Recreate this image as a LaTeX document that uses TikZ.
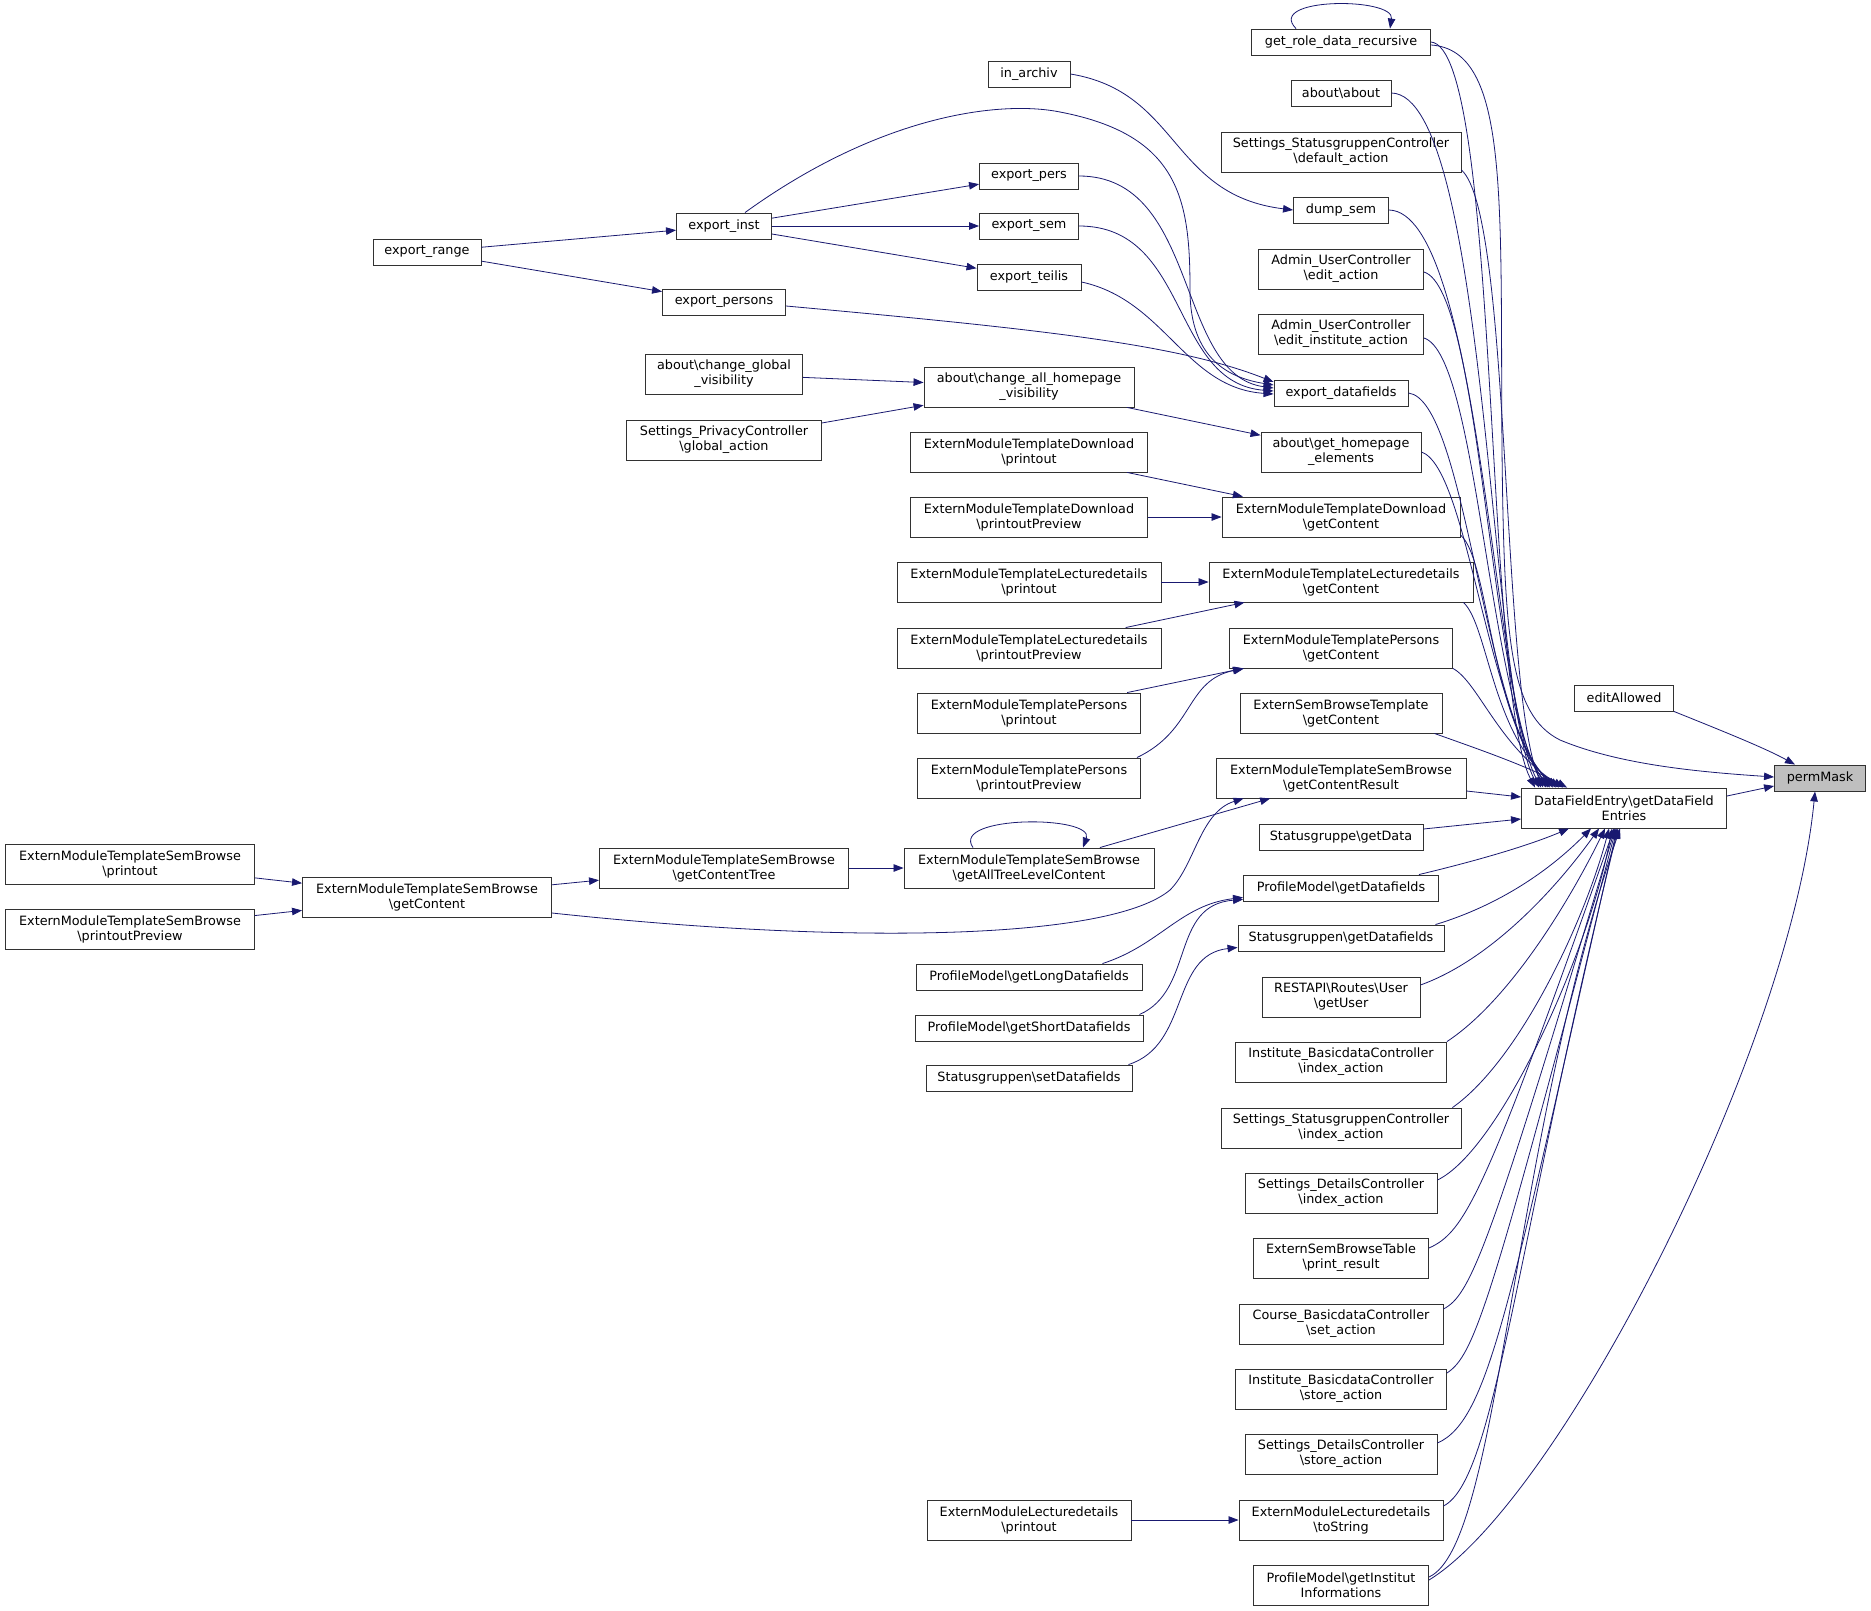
\documentclass[tikz,border=0pt]{standalone}
\usepackage{fontspec}
\setmainfont{DejaVu Sans}
\usetikzlibrary{arrows.meta,calc}
\definecolor{mblue}{RGB}{25,25,112}
\definecolor{boxline}{RGB}{50,50,50}
\definecolor{hl}{RGB}{191,191,191}
\newcommand{\bsl}{\textbackslash}
\begin{document}
\begin{tikzpicture}[x=1pt,y=-1pt,
  fn/.style={draw=boxline, line width=0.9pt, fill=white, inner sep=0pt, align=center, font=\fontsize{12.8}{15}\selectfont, text=black},
  n1/.style={fn, minimum height=26pt},
  n2/.style={fn, minimum height=40pt},
  ed/.style={draw=mblue, line width=0.8pt, -{Triangle[length=10pt,width=7.5pt]}}]
\useasboundingbox[fill=white] (0,0) rectangle (1871,1611);

% column A
\node[n2, minimum width=249pt] (smbp) at (130,864) {ExternModuleTemplateSemBrowse\\\bsl printout};
\node[n2, minimum width=249pt] (smbpp) at (130,929) {ExternModuleTemplateSemBrowse\\\bsl printoutPreview};
% column B
\node[n1, minimum width=108pt] (er) at (427,252) {export\_range};
\node[n2, minimum width=249pt] (smbgc) at (427,897) {ExternModuleTemplateSemBrowse\\\bsl getContent};
% column C
\node[n1, minimum width=95pt] (ei) at (724,226) {export\_inst};
\node[n1, minimum width=123pt] (eps) at (724,302) {export\_persons};
\node[n2, minimum width=157pt] (cgv) at (724,374) {about\bsl change\_global\\\_visibility};
\node[n2, minimum width=195pt] (pga) at (724,440) {Settings\_PrivacyController\\\bsl global\_action};
\node[n2, minimum width=249pt] (smbgct) at (724,868) {ExternModuleTemplateSemBrowse\\\bsl getContentTree};
% column D
\node[n1, minimum width=82pt] (ia) at (1029,74) {in\_archiv};
\node[n1, minimum width=99pt] (ep) at (1029,176) {export\_pers};
\node[n1, minimum width=99pt] (es) at (1029,226) {export\_sem};
\node[n1, minimum width=104pt] (et) at (1029,277) {export\_teilis};
\node[n2, minimum width=210pt] (cahv) at (1029,387) {about\bsl change\_all\_homepage\\\_visibility};
\node[n2, minimum width=237pt] (dlp) at (1029,452) {ExternModuleTemplateDownload\\\bsl printout};
\node[n2, minimum width=237pt] (dlpp) at (1029,517) {ExternModuleTemplateDownload\\\bsl printoutPreview};
\node[n2, minimum width=264pt] (ldp) at (1029,582) {ExternModuleTemplateLecturedetails\\\bsl printout};
\node[n2, minimum width=264pt] (ldpp) at (1029,648) {ExternModuleTemplateLecturedetails\\\bsl printoutPreview};
\node[n2, minimum width=223pt] (psp) at (1029,713) {ExternModuleTemplatePersons\\\bsl printout};
\node[n2, minimum width=223pt] (pspp) at (1029,778) {ExternModuleTemplatePersons\\\bsl printoutPreview};
\node[n2, minimum width=250pt] (atl) at (1029,868) {ExternModuleTemplateSemBrowse\\\bsl getAllTreeLevelContent};
\node[n1, minimum width=226pt] (gld) at (1029,977) {ProfileModel\bsl getLongDatafields};
\node[n1, minimum width=228pt] (gsd) at (1029,1028) {ProfileModel\bsl getShortDatafields};
\node[n1, minimum width=206pt] (sdf) at (1029,1078) {Statusgruppen\bsl setDatafields};
\node[n2, minimum width=204pt] (emlp) at (1029,1520) {ExternModuleLecturedetails\\\bsl printout};
% column E
\node[n1, minimum width=179pt] (grd) at (1341,42) {get\_role\_data\_recursive};
\node[n1, minimum width=100pt] (aa) at (1341,93) {about\bsl about};
\node[n2, minimum width=240pt] (sda) at (1341,152) {Settings\_StatusgruppenController\\\bsl default\_action};
\node[n1, minimum width=95pt] (ds) at (1341,210) {dump\_sem};
\node[n2, minimum width=165pt] (uea) at (1341,269) {Admin\_UserController\\\bsl edit\_action};
\node[n2, minimum width=165pt] (uei) at (1341,334) {Admin\_UserController\\\bsl edit\_institute\_action};
\node[n1, minimum width=134pt] (edf) at (1341,393) {export\_datafields};
\node[n2, minimum width=160pt] (ghe) at (1341,452) {about\bsl get\_homepage\\\_elements};
\node[n2, minimum width=238pt] (dlg) at (1341,517) {ExternModuleTemplateDownload\\\bsl getContent};
\node[n2, minimum width=264pt] (ldg) at (1341,582) {ExternModuleTemplateLecturedetails\\\bsl getContent};
\node[n2, minimum width=223pt] (psg) at (1341,648) {ExternModuleTemplatePersons\\\bsl getContent};
\node[n2, minimum width=202pt] (esb) at (1341,713) {ExternSemBrowseTemplate\\\bsl getContent};
\node[n2, minimum width=250pt] (gcr) at (1341,778) {ExternModuleTemplateSemBrowse\\\bsl getContentResult};
\node[n1, minimum width=164pt] (sgd) at (1341,837) {Statusgruppe\bsl getData};
\node[n1, minimum width=195pt] (pmg) at (1341,888) {ProfileModel\bsl getDatafields};
\node[n1, minimum width=206pt] (sgg) at (1341,938) {Statusgruppen\bsl getDatafields};
\node[n2, minimum width=158pt] (ru) at (1341,997) {RESTAPI\bsl Routes\bsl User\\\bsl getUser};
\node[n2, minimum width=211pt] (iix) at (1341,1062) {Institute\_BasicdataController\\\bsl index\_action};
\node[n2, minimum width=240pt] (six) at (1341,1128) {Settings\_StatusgruppenController\\\bsl index\_action};
\node[n2, minimum width=192pt] (dix) at (1341,1193) {Settings\_DetailsController\\\bsl index\_action};
\node[n2, minimum width=175pt] (pr) at (1341,1258) {ExternSemBrowseTable\\\bsl print\_result};
\node[n2, minimum width=204pt] (csa) at (1341,1324) {Course\_BasicdataController\\\bsl set\_action};
\node[n2, minimum width=211pt] (ist) at (1341,1389) {Institute\_BasicdataController\\\bsl store\_action};
\node[n2, minimum width=192pt] (dst) at (1341,1454) {Settings\_DetailsController\\\bsl store\_action};
\node[n2, minimum width=204pt] (ts) at (1341,1520) {ExternModuleLecturedetails\\\bsl toString};
\node[n2, minimum width=175pt] (gii) at (1341,1585) {ProfileModel\bsl getInstitut\\Informations};
% columns F, G
\node[n1, minimum width=99pt] (ea) at (1624,698) {editAllowed};
\node[n2, minimum width=205pt] (dfe) at (1624,808) {DataFieldEntry\bsl getDataField\\Entries};
\node[n1, minimum width=91pt, fill=hl] (pm) at (1820,778) {permMask};

% ---- left part edges
\draw[ed] (er) -- (ei);
\draw[ed] (er) -- (eps);
\draw[ed] (ei) -- (ep);
\draw[ed] (ei) -- (es);
\draw[ed] (ei) -- (et);
\draw[ed] ($(ei.north)+(21,0)$) .. controls (880,115) and (1000,100) .. (1060,112)
  .. controls (1180,135) and (1190,200) .. (1190,290)
  .. controls (1190,360) and (1230,378) .. ($(edf.west)+(0,-8)$);
\draw[ed] (ep.east) .. controls (1200,176) and (1175,375) .. ($(edf.west)+(0,-5)$);
\draw[ed] (es.east) .. controls (1190,226) and (1170,383) .. ($(edf.west)+(0,-2)$);
\draw[ed] ($(et.east)+(0,5)$) .. controls (1165,300) and (1185,388) .. ($(edf.west)+(0,1)$);
\draw[ed] ($(eps.east)+(0,4)$) .. controls (1050,330) and (1180,345) .. ($(edf.west)+(0,-11)$);
\draw[ed] (ia.east) .. controls (1180,92) and (1170,195) .. (ds.west);
\draw[ed] (cgv) -- (cahv);
\draw[ed] (pga) -- (cahv);
\draw[ed] (cahv) -- (ghe);
\draw[ed] (dlp) -- (dlg);
\draw[ed] (dlpp) -- (dlg);
\draw[ed] (ldp) -- (ldg);
\draw[ed] (ldpp) -- (ldg);
\draw[ed] (psp) -- (psg);
\draw[ed] ($(pspp.north east)+(-4,0)$) .. controls (1195,730) and (1185,680) .. ($(psg.south west)+(15,0)$);
\draw[ed] (smbp) -- (smbgc);
\draw[ed] (smbpp) -- (smbgc);
\draw[ed] (smbgc) -- (smbgct);
\draw[ed] ($(smbgc.east)+(0,16)$) .. controls (850,945) and (1110,940) .. (1170,890)
  .. controls (1195,865) and (1200,812) .. ($(gcr.south west)+(28,0)$);
\draw[ed] (smbgct) -- (atl);
\draw[ed] ($(atl.north)+(-56,0)$) .. controls (950,815) and (1095,815) .. ($(atl.north)+(54,0)$);
\draw[ed] (atl) -- (gcr);
\draw[ed] ($(gld.north east)+(-40,0)$) .. controls (1160,945) and (1180,905) .. ($(pmg.south west)+(0,-4)$);
\draw[ed] ($(gsd.north east)+(-4,0)$) .. controls (1195,990) and (1170,905) .. ($(pmg.south west)+(0,-2)$);
\draw[ed] ($(sdf.north east)+(-4,0)$) .. controls (1190,1045) and (1170,955) .. ($(sgg.south west)+(0,-4)$);
\draw[ed] (emlp) -- (ts);
\draw[ed] ($(grd.north)+(-45,0)$) .. controls (1265,-3) and (1395,-3) .. ($(grd.north)+(49,0)$);

% ---- edges into DataFieldEntry (from above)
\draw[ed] (grd.east) .. controls (1500,48) and (1484,690) .. ($(dfe.north west)+(14,0)$);
\draw[ed] (aa.east) .. controls (1488,95) and (1490,700) .. ($(dfe.north west)+(18,0)$);
\draw[ed] ($(sda.east)+(0,18)$) .. controls (1512,215) and (1500,690) .. ($(dfe.north west)+(22,0)$);
\draw[ed] (ds.east) .. controls (1480,212) and (1494,700) .. ($(dfe.north west)+(20,0)$);
\draw[ed] ($(uea.east)+(0,3)$) .. controls (1482,290) and (1490,700) .. ($(dfe.north west)+(25,0)$);
\draw[ed] ($(uei.east)+(0,4)$) .. controls (1478,355) and (1488,700) .. ($(dfe.north west)+(27,0)$);
\draw[ed] (edf.east) .. controls (1465,400) and (1482,705) .. ($(dfe.north west)+(29,0)$);
\draw[ed] (ghe.east) .. controls (1468,468) and (1486,712) .. ($(dfe.north west)+(32,0)$);
\draw[ed] ($(dlg.east)+(0,18)$) .. controls (1490,560) and (1490,725) .. ($(dfe.north west)+(35,0)$);
\draw[ed] ($(ldg.south east)+(-10,0)$) .. controls (1488,625) and (1492,735) .. ($(dfe.north west)+(38,0)$);
\draw[ed] (psg.south east) .. controls (1478,682) and (1498,745) .. ($(dfe.north west)+(42,0)$);
\draw[ed] ($(esb.south east)+(-8,0)$) .. controls (1475,748) and (1525,765) .. ($(dfe.north west)+(46,0)$);
\draw[ed] ($(gcr.east)+(0,13)$) -- ($(dfe.west)+(0,-11)$);
% ---- edges into DataFieldEntry (from below)
\draw[ed] ($(sgd.east)+(0,-8)$) -- ($(dfe.west)+(0,11)$);
\draw[ed] ($(pmg.north east)+(-20,0)$) .. controls (1480,860) and (1530,845) .. ($(dfe.south west)+(48,0)$);
\draw[ed] ($(sgg.north east)+(-9,0)$) .. controls (1500,905) and (1550,870) .. ($(dfe.south west)+(70,0)$);
\draw[ed] ($(ru.east)+(0,-12)$) .. controls (1490,960) and (1555,890) .. ($(dfe.south west)+(78,0)$);
\draw[ed] (iix.north east) .. controls (1510,1000) and (1570,900) .. ($(dfe.south west)+(84,0)$);
\draw[ed] ($(six.north east)+(-9,0)$) .. controls (1520,1060) and (1585,920) .. ($(dfe.south west)+(88,0)$);
\draw[ed] ($(dix.east)+(0,-13)$) .. controls (1500,1150) and (1590,950) .. ($(dfe.south west)+(91,0)$);
\draw[ed] ($(pr.east)+(0,-10)$) .. controls (1465,1232) and (1485,1195) .. ($(dfe.south west)+(93,0)$);
\draw[ed] ($(csa.east)+(0,-15)$) .. controls (1470,1295) and (1488,1255) .. ($(dfe.south west)+(94,0)$);
\draw[ed] ($(ist.east)+(0,-16)$) .. controls (1474,1355) and (1490,1310) .. ($(dfe.south west)+(95,0)$);
\draw[ed] ($(dst.east)+(0,-11)$) .. controls (1490,1420) and (1510,1300) .. ($(dfe.south west)+(96,0)$);
\draw[ed] ($(ts.east)+(0,-14)$) .. controls (1495,1480) and (1515,1250) .. ($(dfe.south west)+(97,0)$);
\draw[ed] ($(gii.east)+(0,-8)$) .. controls (1500,1545) and (1510,1150) .. ($(dfe.south west)+(99,0)$);

% ---- edges into permMask
\draw[ed] ($(gii.east)+(0,-5)$) .. controls (1560,1500) and (1790,1050) .. ($(pm.south)+(-5,0)$);
\draw[ed] ($(grd.east)+(0,3)$) .. controls (1510,50) and (1500,200) .. (1502,450)
  .. controls (1504,640) and (1510,715) .. (1560,740)
  .. controls (1620,765) and (1700,772) .. ($(pm.west)+(0,-1)$);
\draw[ed] (ea.south east) .. controls (1720,730) and (1765,748) .. ($(pm.north)+(-25,0)$);
\draw[ed] ($(dfe.east)+(0,-12)$) -- ($(pm.west)+(0,8)$);
\end{tikzpicture}
\end{document}
